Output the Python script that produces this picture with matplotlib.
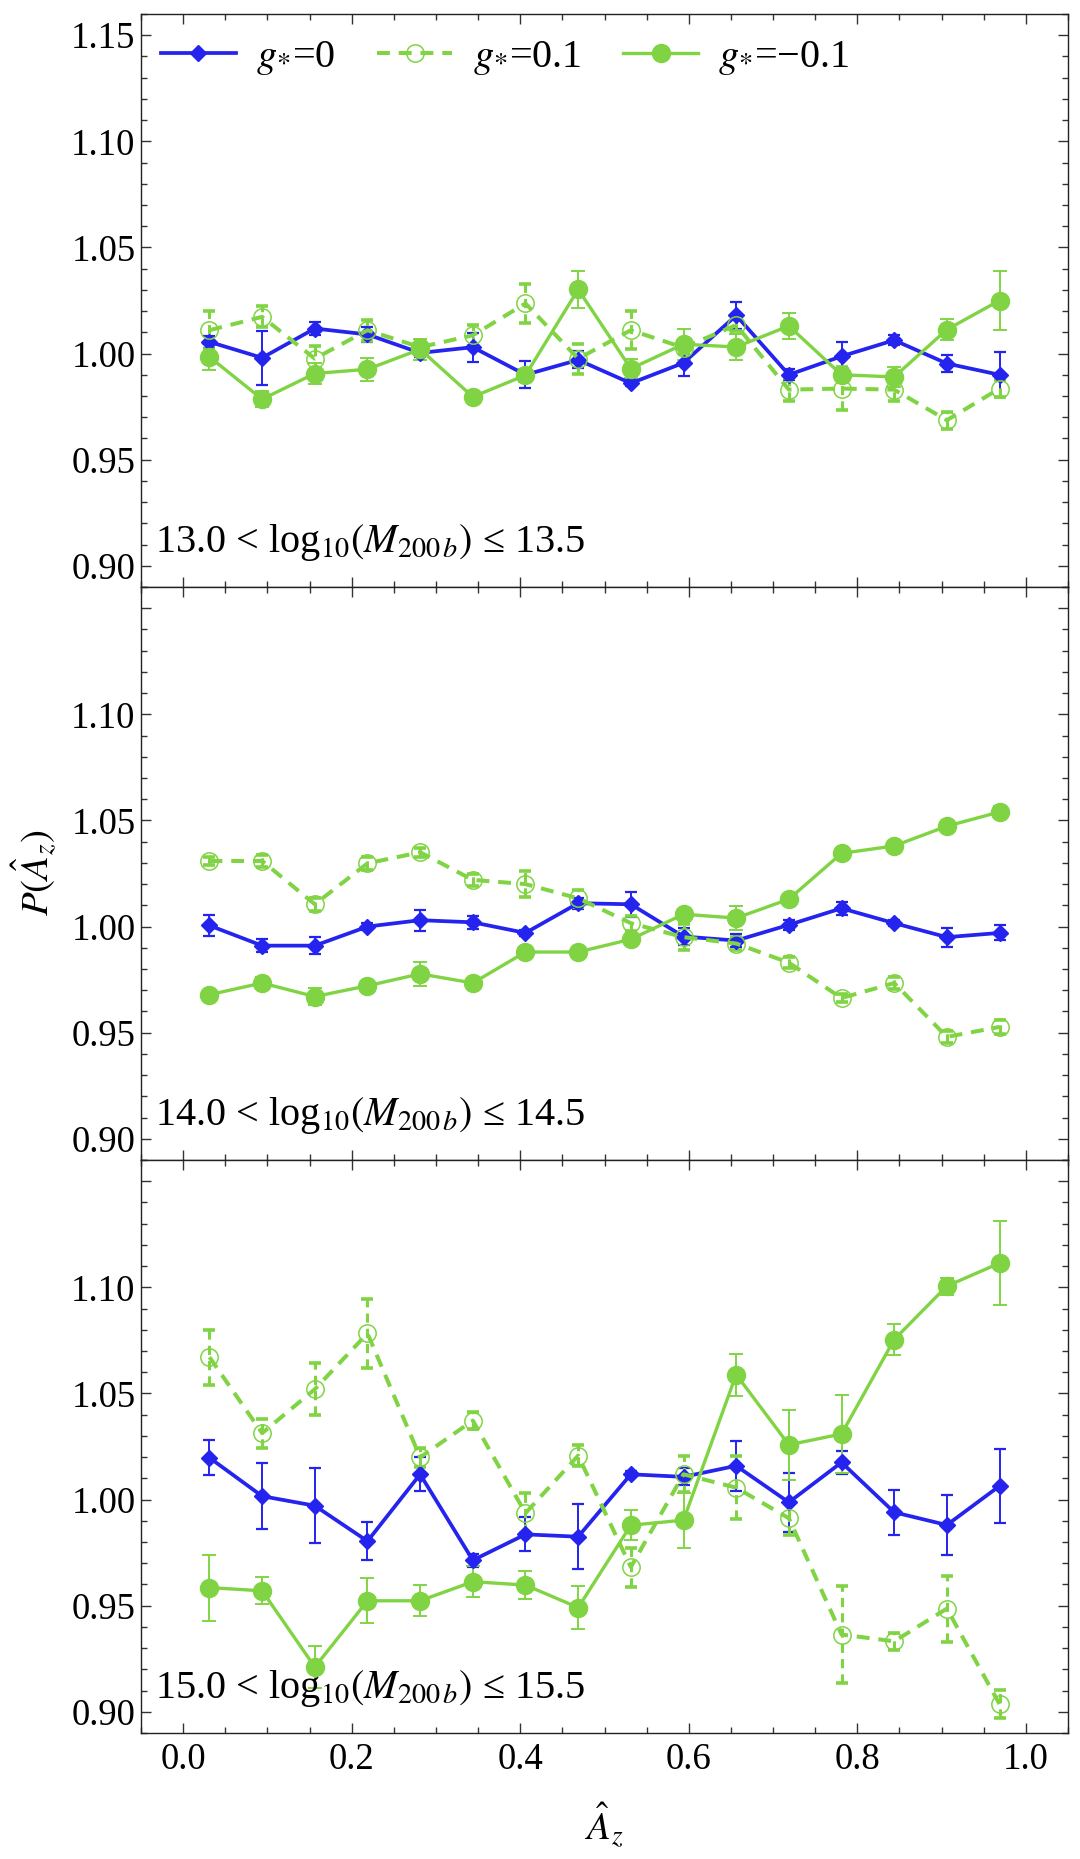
import matplotlib
matplotlib.use('Agg')
import matplotlib.pyplot as plt
from matplotlib.ticker import MultipleLocator, FixedLocator, FixedFormatter, FormatStrFormatter

plt.rcParams['font.family'] = ['Liberation Serif', 'DejaVu Serif']
plt.rcParams['mathtext.fontset'] = 'stix'

# ---------------- data ----------------
x = [0.03125, 0.09375, 0.15625, 0.21875, 0.28125, 0.34375, 0.40625, 0.46875,
     0.53125, 0.59375, 0.65625, 0.71875, 0.78125, 0.84375, 0.90625, 0.96875]

series_labels = [r'$g_{*}$=0', r'$g_{*}$=0.1', r'$g_{*}$=−0.1']
panel_labels = [r'13.0 < log$_{10}(M_{200\,b})$ ≤ 13.5',
                r'14.0 < log$_{10}(M_{200\,b})$ ≤ 14.5',
                r'15.0 < log$_{10}(M_{200\,b})$ ≤ 15.5']

# panel 1 : 13.0 - 13.5
p1_g0 = [1.0055, 0.998, 1.0118, 1.009, 1.0003, 1.003, 0.990, 0.997,
         0.986, 0.9956, 1.018, 0.990, 0.9987, 1.0063, 0.9953, 0.990]
p1_g0_err = [0.003, 0.0127, 0.003, 0.0037, 0.002, 0.0068, 0.0064, 0.004,
             0.0015, 0.006, 0.0065, 0.0025, 0.0066, 0.0025, 0.004, 0.0105]
p1_gp = [1.011, 1.0173, 0.9976, 1.011, 1.003, 1.0086, 1.0236, 0.9976,
         1.011, 1.0028, 1.0134, 0.983, 0.9835, 0.983, 0.9686, 0.9835]
p1_gp_err = [0.009, 0.005, 0.006, 0.005, 0.003, 0.005, 0.009, 0.007,
             0.009, 0.003, 0.003, 0.0055, 0.010, 0.0055, 0.004, 0.004]
p1_gm = [0.9984, 0.9785, 0.9906, 0.9926, 1.002, 0.9796, 0.9898, 1.0302,
         0.9929, 1.0044, 1.0031, 1.013, 0.990, 0.989, 1.0113, 1.025]
p1_gm_err = [0.006, 0.0037, 0.005, 0.0053, 0.005, 0.001, 0.003, 0.0087,
             0.0045, 0.0074, 0.006, 0.006, 0.003, 0.0047, 0.005, 0.0141]

# panel 2 : 14.0 - 14.5
p2_g0 = [1.0005, 0.991, 0.991, 1.000, 1.003, 1.002, 0.997, 1.011,
         1.0105, 0.9953, 0.9934, 1.0008, 1.0086, 1.0016, 0.995, 0.997]
p2_g0_err = [0.005, 0.003, 0.004, 0.0015, 0.005, 0.003, 0.0015, 0.0025,
             0.006, 0.004, 0.003, 0.0025, 0.003, 0.0015, 0.0045, 0.0035]
p2_gp = [1.0309, 1.0309, 1.0105, 1.0298, 1.035, 1.022, 1.020, 1.0133,
         1.0016, 0.995, 0.992, 0.983, 0.9663, 0.9734, 0.948, 0.9527]
p2_gp_err = [0.002, 0.003, 0.003, 0.003, 0.002, 0.003, 0.006, 0.004,
             0.0035, 0.006, 0.003, 0.0025, 0.002, 0.003, 0.003, 0.0035]
p2_gm = [0.9679, 0.9734, 0.967, 0.9721, 0.9777, 0.9734, 0.988, 0.988,
         0.994, 1.0058, 1.004, 1.0129, 1.0345, 1.038, 1.0473, 1.054]
p2_gm_err = [0.0015, 0.003, 0.004, 0.0015, 0.0055, 0.0015, 0.0015, 0.0015,
             0.0015, 0.0015, 0.0055, 0.0015, 0.0015, 0.0015, 0.0015, 0.003]

# panel 3 : 15.0 - 15.5
p3_g0 = [1.0197, 1.0016, 0.9971, 0.9804, 1.0119, 0.9714, 0.9836, 0.9825,
         1.0119, 1.0107, 1.0159, 0.9987, 1.0175, 0.994, 0.988, 1.0064]
p3_g0_err = [0.0083, 0.0157, 0.0177, 0.009, 0.008, 0.003, 0.008, 0.0153,
             0.0015, 0.004, 0.0117, 0.014, 0.0055, 0.0106, 0.0142, 0.0173]
p3_gp = [1.0671, 1.0313, 1.052, 1.0783, 1.0199, 1.0372, 0.9936, 1.0207,
         0.9682, 1.0119, 1.0056, 0.9912, 0.9364, 0.9332, 0.9486, 0.9036]
p3_gp_err = [0.013, 0.0068, 0.0123, 0.0163, 0.0044, 0.0041, 0.0095, 0.0048,
             0.0092, 0.0085, 0.0147, 0.008, 0.023, 0.004, 0.0155, 0.0065]
p3_gm = [0.9585, 0.957, 0.9211, 0.9523, 0.9523, 0.9613, 0.9597, 0.9491,
         0.9879, 0.9903, 1.0589, 1.0258, 1.0309, 1.0754, 1.1006, 1.1114]
p3_gm_err = [0.0155, 0.0064, 0.0101, 0.0107, 0.0073, 0.0074, 0.0064, 0.0101,
             0.007, 0.0129, 0.0099, 0.0165, 0.0183, 0.0072, 0.004, 0.0197]

panels = [
    (p1_g0, p1_g0_err, p1_gp, p1_gp_err, p1_gm, p1_gm_err),
    (p2_g0, p2_g0_err, p2_gp, p2_gp_err, p2_gm, p2_gm_err),
    (p3_g0, p3_g0_err, p3_gp, p3_gp_err, p3_gm, p3_gm_err),
]

ytick_vals = [0.90, 0.95, 1.00, 1.05, 1.10, 1.15]
xtick_vals = [0.0, 0.2, 0.4, 0.6, 0.8, 1.0]

# ---------------- style ----------------
BLUE = '#2424ee'
GREEN = '#80d444'
FS = 26.5

W, H = 1080, 1859
fig = plt.figure(figsize=(W / 100, H / 100), dpi=100)

left_px, right_px, top_px, ph = 141, 1068, 14, 573
axes = []
for i in range(3):
    top = top_px + i * ph
    ax = fig.add_axes([left_px / W, 1 - (top + ph) / H, (right_px - left_px) / W, ph / H])
    axes.append(ax)

for i, ax in enumerate(axes):
    g0, g0e, gp, gpe, gm, gme = panels[i]

    # error bars
    ax.errorbar(x, g0, yerr=g0e, fmt='none', ecolor=BLUE, elinewidth=1.4,
                capsize=4.5, capthick=1.6, zorder=2)
    eb = ax.errorbar(x, gp, yerr=gpe, fmt='none', ecolor=GREEN, elinewidth=2.2,
                     capsize=4.5, capthick=2.6, zorder=2)
    eb[2][0].set_linestyle((0, (3.0, 2.0)))
    ax.errorbar(x, gm, yerr=gme, fmt='none', ecolor=GREEN, elinewidth=1.4,
                capsize=5, capthick=1.4, zorder=2)

    # lines + markers
    ax.plot(x, g0, color=BLUE, lw=2.7, marker='D', ms=8.5, mec=BLUE, mfc=BLUE,
            label=series_labels[0], zorder=3)
    ax.plot(x, gp, color=GREEN, lw=2.9, ls=(0, (3.2, 2.2)), marker='o', ms=12.5,
            mfc='none', mec=GREEN, mew=1.1, label=series_labels[1], zorder=3)
    ax.plot(x, gm, color=GREEN, lw=2.4, marker='o', ms=13, mec=GREEN, mfc=GREEN,
            label=series_labels[2], zorder=3)

    ax.set_xlim(-0.05, 1.05)
    ax.set_ylim(0.89, 1.16)

    ax.xaxis.set_major_locator(FixedLocator(xtick_vals))
    ax.xaxis.set_minor_locator(MultipleLocator(0.05))
    ax.xaxis.set_major_formatter(FormatStrFormatter('%.1f'))
    ax.yaxis.set_major_locator(FixedLocator(ytick_vals))
    ax.yaxis.set_minor_locator(MultipleLocator(0.01))
    ylabels = ['%.2f' % v for v in ytick_vals]
    if i > 0:
        ylabels[-1] = ''
    ax.yaxis.set_major_formatter(FixedFormatter(ylabels))

    ax.tick_params(which='both', direction='in', top=True, right=True,
                   labelsize=FS, width=1.0, color='#333333')
    ax.tick_params(which='major', length=7.5)
    ax.tick_params(which='minor', length=4.5)
    ax.tick_params(axis='y', pad=4)
    ax.tick_params(axis='x', pad=7)
    if i < 2:
        ax.tick_params(labelbottom=False)
    for s in ax.spines.values():
        s.set_linewidth(1.0)
        s.set_color('#222222')

    ax.text(0.015, 0.061, panel_labels[i], transform=ax.transAxes,
            fontsize=29, va='baseline', ha='left')

leg = axes[0].legend(loc='center left', bbox_to_anchor=(0.0215, 0.923),
                     ncol=3, frameon=False, fontsize=29, numpoints=1,
                     handlelength=1.86, handletextpad=0.5, columnspacing=1.05,
                     borderpad=0, borderaxespad=0)

fig.text(34 / W, 1 - 873 / H, r'$P(\hat{A}_z)$', rotation=90, ha='center',
         va='center', fontsize=28)
fig.text((left_px + right_px) / 2 / W, 1 - 1840 / H, r'$\hat{A}_z$',
         ha='center', va='baseline', fontsize=28)

fig.savefig('out.png', dpi=100)
